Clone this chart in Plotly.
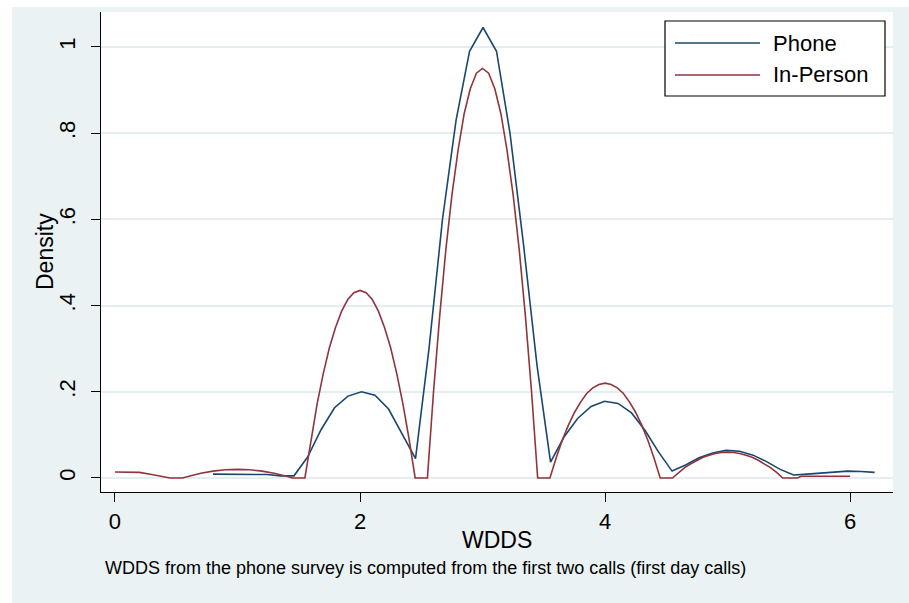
import plotly.graph_objects as go

# ---- data ----
phone_x = [0.800, 0.910, 1.020, 1.131, 1.241, 1.351, 1.461, 1.571, 1.682, 1.792,
           1.902, 2.012, 2.122, 2.233, 2.343, 2.453, 2.563, 2.673, 2.784, 2.894,
           3.004, 3.114, 3.224, 3.335, 3.445, 3.555, 3.665, 3.776, 3.886, 3.996,
           4.106, 4.216, 4.327, 4.437, 4.547, 4.657, 4.767, 4.878, 4.988, 5.098,
           5.208, 5.318, 5.429, 5.539, 5.649, 5.759, 5.869, 5.980, 6.090, 6.200]
phone_y = [0.009, 0.009, 0.009, 0.009, 0.008, 0.005, 0.005, 0.048, 0.112, 0.163,
           0.190, 0.200, 0.192, 0.160, 0.102, 0.045, 0.300, 0.600, 0.830, 0.990,
           1.045, 0.990, 0.800, 0.540, 0.260, 0.037, 0.095, 0.138, 0.166, 0.178,
           0.173, 0.151, 0.110, 0.060, 0.016, 0.030, 0.047, 0.058, 0.064, 0.062,
           0.053, 0.038, 0.020, 0.007, 0.009, 0.011, 0.013, 0.016, 0.015, 0.013]

inperson_x = [0.00, 0.10, 0.20, 0.30, 0.40, 0.45, 0.55, 0.60, 0.70, 0.80,
              0.90, 1.00, 1.10, 1.20, 1.30, 1.40, 1.45, 1.55, 1.60, 1.65,
              1.70, 1.75, 1.80, 1.85, 1.90, 1.95, 2.00, 2.05, 2.10, 2.15,
              2.20, 2.25, 2.30, 2.35, 2.40, 2.45, 2.55, 2.60, 2.65, 2.70,
              2.75, 2.80, 2.85, 2.90, 2.95, 3.00, 3.05, 3.10, 3.15, 3.20,
              3.25, 3.30, 3.35, 3.40, 3.45, 3.55, 3.60, 3.65, 3.70, 3.75,
              3.80, 3.85, 3.90, 3.95, 4.00, 4.05, 4.10, 4.15, 4.20, 4.25,
              4.30, 4.35, 4.40, 4.45, 4.55, 4.60, 4.65, 4.70, 4.75, 4.80,
              4.85, 4.90, 4.95, 5.00, 5.05, 5.10, 5.15, 5.20, 5.25, 5.30,
              5.35, 5.40, 5.45, 5.57, 5.60, 5.80, 6.00]
inperson_y = [0.014, 0.014, 0.013, 0.008, 0.003, 0.000, 0.000, 0.004, 0.011, 0.016,
              0.019, 0.020, 0.019, 0.016, 0.011, 0.004, 0.000, 0.000, 0.091, 0.172,
              0.242, 0.302, 0.349, 0.387, 0.414, 0.430, 0.435, 0.430, 0.414, 0.387,
              0.349, 0.302, 0.242, 0.172, 0.091, 0.000, 0.000, 0.200, 0.375, 0.528,
              0.656, 0.760, 0.845, 0.903, 0.939, 0.950, 0.939, 0.903, 0.845, 0.760,
              0.656, 0.528, 0.375, 0.200, 0.000, 0.000, 0.046, 0.087, 0.122, 0.152,
              0.176, 0.196, 0.209, 0.217, 0.220, 0.217, 0.209, 0.196, 0.176, 0.152,
              0.122, 0.087, 0.046, 0.000, 0.000, 0.013, 0.024, 0.033, 0.041, 0.048,
              0.053, 0.057, 0.059, 0.060, 0.059, 0.057, 0.053, 0.048, 0.041, 0.033,
              0.024, 0.013, 0.000, 0.000, 0.004, 0.004, 0.004]

series_names = ["Phone", "In-Person"]
series_colors = ["#1a476f", "#90353b"]

x_tickvals = [0, 2, 4, 6]
x_ticktext = ["0", "2", "4", "6"]
y_tickvals = [0, 0.2, 0.4, 0.6, 0.8, 1.0]
y_ticktext = ["0", ".2", ".4", ".6", ".8", "1"]

x_title = "WDDS"
y_title = "Density"
note_text = "WDDS from the phone survey is computed from the first two calls (first day calls)"

FONT = "Liberation Sans, Arial, Helvetica, sans-serif"
BG = "#EAF2F3"
GRID = "#E4EDEF"

fig = go.Figure()
fig.add_trace(go.Scatter(x=phone_x, y=phone_y, mode="lines", name=series_names[0],
                         line=dict(color=series_colors[0], width=1.6), showlegend=False))
fig.add_trace(go.Scatter(x=inperson_x, y=inperson_y, mode="lines", name=series_names[1],
                         line=dict(color=series_colors[1], width=1.6), showlegend=False))

W, H = 909, 603
L, R, T, B = 101, 16, 12, 111
pw, ph = W - L - R, H - T - B


def px(xp):
    return (xp - L) / pw


def py(yp):
    return (H - B - yp) / ph


shapes = [
    # white strip at the very top and left (outside the figure frame)
    dict(type="rect", xref="paper", yref="paper", x0=px(0), x1=px(W), y0=py(7), y1=py(0),
         fillcolor="white", line=dict(width=0), layer="below"),
    dict(type="rect", xref="paper", yref="paper", x0=px(0), x1=px(12), y0=py(H), y1=py(0),
         fillcolor="white", line=dict(width=0), layer="below"),
    # legend box
    dict(type="rect", xref="paper", yref="paper", x0=px(665), x1=px(885), y0=py(96), y1=py(21),
         fillcolor="white", line=dict(color="black", width=1.2)),
]
annotations = []
leg_rows = [43, 75]
for name, color, yrow in zip(series_names, series_colors, leg_rows):
    shapes.append(dict(type="line", xref="paper", yref="paper", x0=px(675), x1=px(760),
                       y0=py(yrow), y1=py(yrow), line=dict(color=color, width=1.6)))
    annotations.append(dict(text=name, xref="paper", yref="paper", x=px(771), y=py(yrow),
                            xanchor="left", yanchor="middle", showarrow=False,
                            font=dict(family=FONT, size=22, color="black")))

annotations.append(dict(text=note_text, xref="paper", yref="paper", x=px(103), y=py(568),
                        xanchor="left", yanchor="middle", showarrow=False,
                        font=dict(family=FONT, size=18, color="black")))
# axis titles
annotations.append(dict(text=x_title, xref="paper", yref="paper", x=px(497), y=py(540),
                        xanchor="center", yanchor="middle", showarrow=False,
                        font=dict(family=FONT, size=23, color="black")))
annotations.append(dict(text=y_title, xref="paper", yref="paper", x=px(45), y=py(252),
                        xanchor="center", yanchor="middle", showarrow=False, textangle=-90,
                        font=dict(family=FONT, size=23, color="black")))

fig.update_layout(
    width=W, height=H,
    margin=dict(l=L, r=R, t=T, b=B, pad=0),
    paper_bgcolor=BG, plot_bgcolor="white",
    font=dict(family=FONT, size=22, color="black"),
    showlegend=False,
    shapes=shapes, annotations=annotations,
    xaxis=dict(
        range=[-0.114, 6.35], tickvals=x_tickvals, ticktext=x_ticktext,
        showgrid=False, zeroline=False, showline=True, linecolor="black", linewidth=1.2,
        ticks="outside", ticklen=9, tickwidth=1.2, tickcolor="black",
        tickfont=dict(size=22), ticklabelstandoff=0,
    ),
    yaxis=dict(
        range=[-0.0325, 1.081], tickvals=y_tickvals, ticktext=y_ticktext,
        showgrid=True, gridcolor=GRID, gridwidth=1.5,
        zeroline=True, zerolinecolor=GRID, zerolinewidth=1.5,
        showline=True, linecolor="black", linewidth=1.2,
        ticks="outside", ticklen=9, tickwidth=1.2, tickcolor="black",
        tickangle=-90, tickfont=dict(size=22), ticklabelstandoff=7,
    ),
)

fig.write_html("out.html", config={"displayModeBar": False},
               post_script="document.body.style.margin='0';document.body.style.padding='0';")
